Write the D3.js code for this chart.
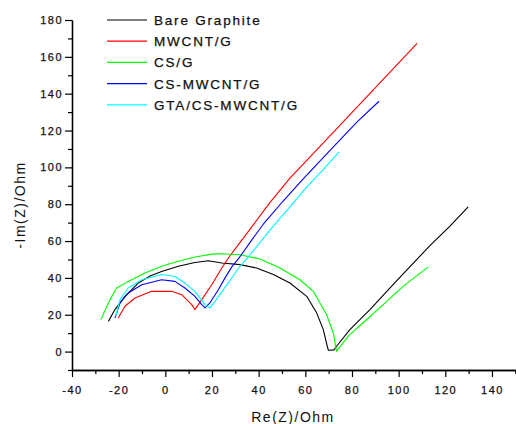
<!DOCTYPE html>
<html>
<head>
<meta charset="utf-8">
<script src="https://cdn.jsdelivr.net/npm/d3@7"></script>
<style>
html,body{margin:0;padding:0;background:#fff;}
svg text{font-family:"Liberation Sans",Arial,sans-serif;}
</style>
</head>
<body>
<svg id="chart" width="516" height="424"></svg>
<script>
// ---- data ----
const seriesNames = ["Bare Graphite","MWCNT/G","CS/G","CS-MWCNT/G","GTA/CS-MWCNT/G"];
const seriesColors = ["#000000","#ff0000","#00ff00","#0000ff","#00ffff"];

const bareGraphite = [
  [-24.4,16.4],[-21.6,22.8],[-17.3,30],[-11.6,37.2],[-6.5,41],[-1.6,43.5],[5.6,46.3],
  [12.7,48.4],[18.4,49.3],[24.2,48.1],[32,47.2],[39.1,45.4],[46.3,41.8],[53.4,37.2],
  [60.6,30],[64.9,20.9],[67.7,11.9],[69.4,2.9],[69.9,0.7],[72.3,0.9],[73.4,2.9],
  [79.1,11.9],[87.7,22.8],[99.2,38.5],[113.4,57.5],[122,68.1],[129.8,78.6]
];
const mwcntG = [
  [-20.2,18.2],[-17.3,24.6],[-13,29.1],[-5.9,32.7],[2.7,32.7],[7,30.9],[11.3,25.5],
  [12.7,22.8],[15.6,28.2],[19.9,36.3],[24.2,45.4],[27.7,52],[30.6,56.8],[37.7,68.8],
  [44.9,81],[53.4,94.2],[65,109.6],[76.1,124.5],[84.7,136.1],[95,149.9],[107.9,167.3]
];
const csG = [
  [-27.6,17.4],[-23.7,28.2],[-20.9,34.5],[-15.9,38.1],[-8.7,42.7],[-1.6,46.3],[5.6,49],
  [12.7,51.3],[19.9,52.9],[24.2,53.1],[32,52.6],[40.6,50.3],[49.1,45.4],[57.7,39],
  [63.4,32.7],[69.1,20.1],[72,10.1],[73,2.9],[73.4,0.2],[78.6,8.7],[86.3,17.4],
  [93.4,25.5],[102,35.5],[112.7,46]
];
const csMwcntG = [
  [-21.6,18.2],[-19.4,26.4],[-15.9,31.8],[-10.1,36.3],[-1.6,39],[4.1,38.1],[8.4,34.5],
  [12.7,30],[15.6,25.5],[17,23.7],[19.1,26.4],[22.7,33.6],[25.6,40],[28.5,46],[32,51.5],
  [37,60.5],[41.9,69],[50.4,81.6],[59,93.6],[70.6,109.2],[82.1,124.6],[91.6,135.9]
];
const gtaCsMwcntG = [
  [-21.3,19.1],[-19.4,28.2],[-15.9,34.5],[-10.1,39],[-1.6,41.8],[4.1,40.8],[8.4,37.2],
  [12.7,32.7],[17,25.5],[19.1,23.7],[21.3,27.3],[24.9,33.6],[27.9,39],[31.5,45.5],
  [35.3,51],[44.9,66.1],[53.4,78.6],[60.7,89.5],[67.6,98.7],[74.4,108.4]
];
const seriesData = [bareGraphite, mwcntG, csG, csMwcntG, gtaCsMwcntG];

const xMajorTicks = [-40,-20,0,20,40,60,80,100,120,140];
const yMajorTicks = [0,20,40,60,80,100,120,140,160,180];

// ---- drawing ----
const svg = d3.select("#chart");
const x = d3.scaleLinear().domain([-40,150]).range([72,515.3]);
const y = d3.scaleLinear().domain([-10,180]).range([370,20]);

const line = d3.line().x(d=>x(d[0])).y(d=>y(d[1]));

const plot = svg.append("g");
seriesData.forEach((s,i)=>{
  plot.append("path").datum(s)
    .attr("fill","none").attr("stroke",seriesColors[i]).attr("stroke-width",1.1)
    .attr("stroke-linejoin","round").attr("d",line);
});

// axes
const xMinor = d3.range(-30,151,20);
const yMinor = d3.range(-10,181,20);
const fmt = d => String(d);

function styleAxis(g){
  g.select(".domain").attr("stroke","#000").attr("stroke-width",1.3);
  g.selectAll(".tick line").attr("stroke","#000").attr("stroke-width",1.2);
  g.selectAll(".tick text").attr("fill","#111").attr("stroke","#111").attr("stroke-width",0.25)
    .style("font-size","11px").style("letter-spacing","1.5px");
}

svg.append("g").attr("transform","translate(0,370)")
  .call(d3.axisBottom(x).tickValues(xMinor).tickSize(4).tickFormat("").tickSizeOuter(0))
  .call(styleAxis);
svg.append("g").attr("transform","translate(0,370)")
  .call(d3.axisBottom(x).tickValues(xMajorTicks).tickFormat(fmt).tickSize(7).tickPadding(9).tickSizeOuter(0))
  .call(styleAxis);

svg.append("g").attr("transform","translate(72,0)")
  .call(d3.axisLeft(y).tickValues(yMinor).tickSize(4).tickFormat("").tickSizeOuter(0))
  .call(styleAxis);
svg.append("g").attr("transform","translate(72,0)")
  .call(d3.axisLeft(y).tickValues(yMajorTicks).tickFormat(fmt).tickSize(7).tickPadding(2).tickSizeOuter(0))
  .call(styleAxis);

// axis titles
svg.append("text").attr("x",293).attr("y",422).attr("text-anchor","middle")
  .style("font-size","14px").style("letter-spacing","1.5px").attr("fill","#111").text("Re(Z)/Ohm");
svg.append("text").attr("transform","translate(25,205) rotate(-90)").attr("text-anchor","middle")
  .style("font-size","14px").style("letter-spacing","1.5px").attr("fill","#111").text("-Im(Z)/Ohm");

// legend
const leg = svg.append("g");
seriesNames.forEach((n,i)=>{
  const yy = 20 + i*21.2;
  leg.append("line").attr("x1",107).attr("x2",147).attr("y1",yy).attr("y2",yy)
    .attr("stroke",seriesColors[i]).attr("stroke-width",1.2);
  leg.append("text").attr("x",154).attr("y",yy+5)
    .style("font-size","13.5px").style("letter-spacing","1.8px")
    .attr("fill","#111").attr("stroke","#111").attr("stroke-width",0.25).text(n);
});
</script>
</body>
</html>
